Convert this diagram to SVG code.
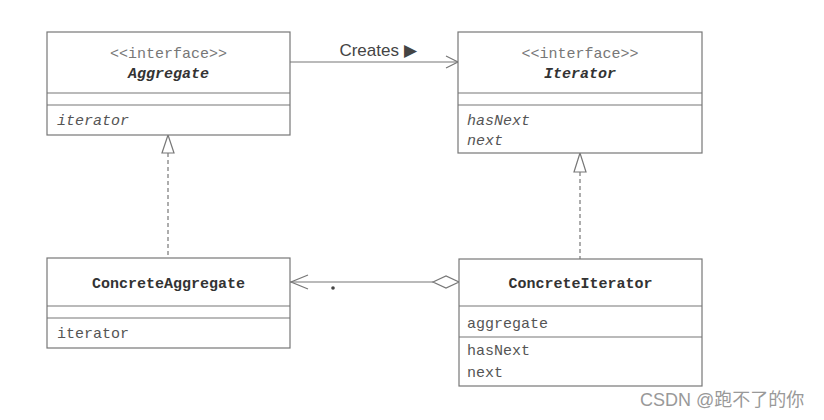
<svg xmlns="http://www.w3.org/2000/svg" width="824" height="420" viewBox="0 0 824 420">
<style>
.box{fill:#fff;stroke:#777;stroke-width:1.2}
.div{stroke:#777;stroke-width:1.2}
.t{font-family:"Liberation Mono",monospace;font-size:15px;fill:#555}
.st{fill:#777}
.nm{font-weight:bold;fill:#333}
.it{font-style:italic}
.c{text-anchor:middle}
.ln{stroke:#777;stroke-width:1.2;fill:none}
.dash{stroke-dasharray:4 3}
</style>
<rect width="824" height="420" fill="#fff"/>
<g id="connectors">
<line class="ln" x1="290" y1="62" x2="458" y2="62"/>
<polyline class="ln" points="446,56 458,62 446,68"/>
<text x="378" y="56" class="c" style="font-family:'Liberation Sans',Arial,sans-serif;font-size:17px;fill:#444">Creates ▶</text>
<line class="ln dash" x1="168" y1="153" x2="168" y2="258"/>
<polygon class="ln" points="168,135 162,153 174,153" fill="#fff"/>
<line class="ln dash" x1="580" y1="172" x2="580" y2="259"/>
<polygon class="ln" points="580,153 574,172 586,172" fill="#fff"/>
<line class="ln" x1="290" y1="282" x2="433" y2="282"/>
<polyline class="ln" points="308,275 291,282 308,289"/>
<polygon class="ln" points="433,282 446,276 459,282 446,288" fill="#fff"/>
<circle cx="333" cy="288" r="1.8" fill="#444"/>
</g>
<g id="Aggregate">
<rect class="box" x="47" y="32" width="243" height="103"/>
<line class="div" x1="47" y1="93" x2="290" y2="93"/>
<line class="div" x1="47" y1="105" x2="290" y2="105"/>
<text class="t st c" x="168.5" y="58">&lt;&lt;interface&gt;&gt;</text>
<text class="t nm it c" x="168.5" y="78">Aggregate</text>
<text class="t it" x="57" y="125">iterator</text>
</g>
<g id="Iterator">
<rect class="box" x="458" y="32" width="244" height="121"/>
<line class="div" x1="458" y1="93" x2="702" y2="93"/>
<line class="div" x1="458" y1="105" x2="702" y2="105"/>
<text class="t st c" x="580" y="58">&lt;&lt;interface&gt;&gt;</text>
<text class="t nm it c" x="580" y="78">Iterator</text>
<text class="t it" x="467" y="125">hasNext</text>
<text class="t it" x="467" y="145">next</text>
</g>
<g id="ConcreteAggregate">
<rect class="box" x="47" y="258" width="243" height="90"/>
<line class="div" x1="47" y1="306" x2="290" y2="306"/>
<line class="div" x1="47" y1="318" x2="290" y2="318"/>
<text class="t nm c" x="168.5" y="288">ConcreteAggregate</text>
<text class="t" x="57" y="338">iterator</text>
</g>
<g id="ConcreteIterator">
<rect class="box" x="459" y="259" width="243" height="127"/>
<line class="div" x1="459" y1="306" x2="702" y2="306"/>
<line class="div" x1="459" y1="337" x2="702" y2="337"/>
<text class="t nm c" x="580.5" y="288">ConcreteIterator</text>
<text class="t" x="467" y="328">aggregate</text>
<text class="t" x="467" y="355">hasNext</text>
<text class="t" x="467" y="377">next</text>
</g>
<text x="640" y="406" style="font-family:'Liberation Sans','Noto Sans CJK SC',sans-serif;font-size:18px;fill:#999">CSDN @跑不了的你</text>
</svg>
